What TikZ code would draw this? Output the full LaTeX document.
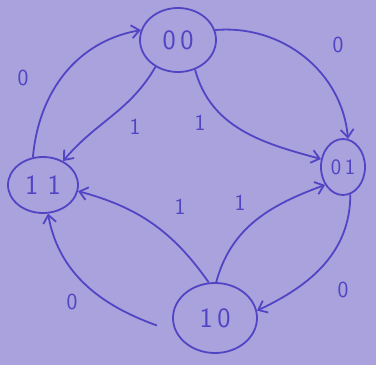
\documentclass[tikz,border=0pt]{standalone}
\usetikzlibrary{shapes.geometric,arrows.meta}
\definecolor{paper}{HTML}{A9A2DD}
\definecolor{ink}{HTML}{5245C4}
\begin{document}
\begin{tikzpicture}[x=1pt,y=1pt,
  state/.style={draw=ink, ellipse, line width=1.8pt, inner sep=0pt, text=ink,
    font=\sffamily\fontsize{28}{28}\selectfont},
  edge/.style={draw=ink, line width=1.8pt, -{Straight Barb[length=8pt,width=13pt,line width=1.8pt]}},
  lab/.style={text=ink, font=\sffamily\fontsize{23}{23}\selectfont}]
\fill[paper] (0,0) rectangle (376,365);
\useasboundingbox (0,0) rectangle (376,365);
\node[state, minimum width=76pt, minimum height=64pt] (n00) at (178,325) {0\,0};
\node[state, minimum width=44pt, minimum height=56pt] (n01) at (343,198) {\fontsize{22}{22}\selectfont 0\,1};
\node[state, minimum width=70pt, minimum height=56pt] (n11) at (43,180) {1\,\,1};
\node[state, minimum width=84pt, minimum height=70pt] (n10) at (215,47) {1\,0};
% outer arcs (input 0)
\draw[edge] (n00.15) to[out=5, in=95] (n01.80);
\draw[edge] (n01.-75) to[out=-90, in=25] (n10.10);
\draw[edge, shorten <=20pt] (n10.200) to[out=160, in=-80] (n11.-80);
\draw[edge] (n11.110) to[out=85, in=190] (n00.165);
% inner arcs (input 1)
\draw[edge] (n00.-60) to[out=-75, in=165] (n01.160);
\draw[edge] (n10.88) to[out=75, in=-160] (n01.-135);
\draw[edge] (n10.100) to[out=125, in=-15] (n11.-10);
\draw[edge] (n00.-130) to[out=-120, in=50] (n11.50);
% labels
\node[lab] (l1) at (338,320) {0};
\node[lab] (l2) at (343,75) {0};
\node[lab] (l3) at (72,63) {0};
\node[lab] (l4) at (23,287) {0};
\node[lab] (l5) at (135,238) {1};
\node[lab] (l6) at (200,242) {1};
\node[lab] (l7) at (180,158) {1};
\node[lab] (l8) at (240,162) {1};
\end{tikzpicture}
\end{document}
